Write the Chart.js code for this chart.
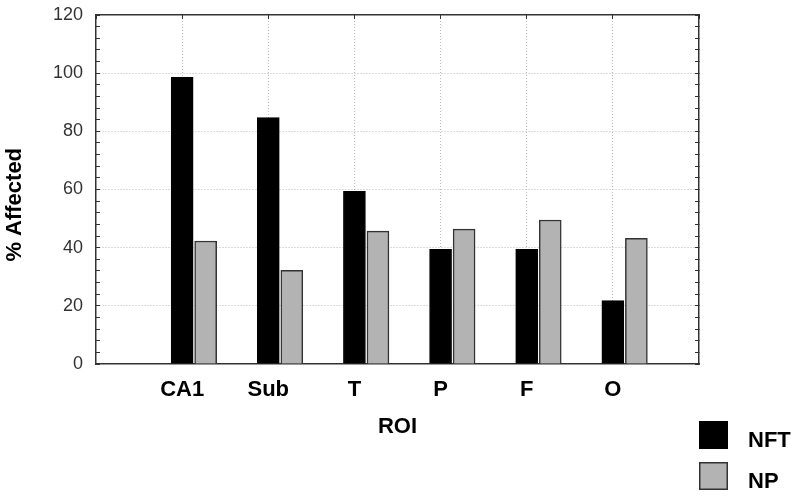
<!DOCTYPE html>
<html>
<head>
<meta charset="utf-8">
<script src="https://cdn.jsdelivr.net/npm/chart.js@4"></script>
<style>
  html, body { margin: 0; padding: 0; background: #ffffff; }
  #wrap { width: 800px; height: 498px; }
</style>
</head>
<body>
<div id="wrap"><canvas id="c" width="800" height="498"></canvas></div>
<script>
// ---- data ----
const categories = ['CA1', 'Sub', 'T', 'P', 'F', 'O'];
const nftValues  = [98.6, 84.7, 59.4, 39.4, 39.4, 21.8];
const npValues   = [42.3, 32.2, 45.7, 46.4, 49.5, 43.2];
const seriesNames = ['NFT', 'NP'];
const yTickMin = 0, yTickMax = 120, yMajorStep = 20, yMinorStep = 4;

// ---- styling ----
const FONT = "'Liberation Sans', Arial, sans-serif";
const gridColor = '#b8b8b8';
const frameColor = '#333333';
const npShift = 0.273;   // NP bar sits just to the right of the category line

const nftData = nftValues.map((v, i) => ({ x: i + 1, y: v }));
const npData  = npValues.map((v, i) => ({ x: i + 1, y: v }));

const boxLegend = {
  id: 'boxLegend',
  afterDraw(chart) {
    const ctx = chart.ctx;
    const area = chart.chartArea;
    chart.data.datasets.forEach((ds, i) => {
      const bx = area.right;
      const by = chart.height - 77 + i * 41;
      ctx.save();
      ctx.fillStyle = ds.backgroundColor;
      ctx.fillRect(bx, by, 29, 28);
      ctx.strokeStyle = ds.borderColor;
      ctx.lineWidth = 1.5;
      ctx.strokeRect(bx + 0.75, by + 0.75, 27.5, 26.5);
      ctx.fillStyle = '#000';
      ctx.font = 'bold 22px ' + FONT;
      ctx.textBaseline = 'middle';
      ctx.textAlign = 'left';
      ctx.fillText(ds.label, bx + 49, by + 20);
      ctx.restore();
    });
  }
};

new Chart(document.getElementById('c'), {
  type: 'bar',
  data: {
    datasets: [
      {
        label: seriesNames[0],
        data: nftData,
        xAxisID: 'x',
        yAxisID: 'y',
        backgroundColor: '#000000',
        borderColor: '#000000',
        borderWidth: 1,
        barThickness: 22,
        grouped: false
      },
      {
        label: seriesNames[1],
        data: npData,
        xAxisID: 'xNP',
        yAxisID: 'y',
        backgroundColor: '#b3b3b3',
        borderColor: '#333333',
        borderWidth: 1.5,
        barThickness: 22,
        grouped: false
      }
    ]
  },
  options: {
    responsive: false,
    animation: false,
    layout: { padding: { left: 0, top: 15, right: 101, bottom: 58 } },
    plugins: {
      legend: { display: false },
      tooltip: { enabled: false }
    },
    scales: {
      x: {
        type: 'linear',
        position: 'bottom',
        min: 0,
        max: categories.length + 1,
        offset: false,
        z: 1,
        ticks: {
          stepSize: 1,
          autoSkip: false,
          maxTicksLimit: 100,
          maxRotation: 0,
          padding: 13,
          color: '#000',
          font: { family: FONT, size: 22, weight: 'bold' },
          callback: (v) => categories[v - 1] || ''
        },
        grid: {
          offset: false,
          color: (c) => (c.tick && c.tick.value >= 1 && c.tick.value <= categories.length) ? gridColor : 'rgba(0,0,0,0)',
          lineWidth: 1,
          drawTicks: false
        },
        border: { display: true, color: frameColor, width: 1.5, dash: [1, 2] },
        title: {
          display: true,
          text: 'ROI',
          color: '#000',
          font: { family: FONT, size: 22, weight: 'bold' },
          padding: { top: 10, bottom: 0 }
        },
        afterFit: (s) => { s.height = 76; s.paddingLeft = 0; s.paddingRight = 0; }
      },
      xNP: {
        type: 'linear',
        display: false,
        offset: false,
        grid: { offset: false },
        min: -npShift,
        max: categories.length + 1 - npShift
      },
      xTop: {
        type: 'linear',
        position: 'top',
        min: 0,
        max: categories.length + 1,
        offset: false,
        z: 1,
        ticks: { display: false, stepSize: 1, maxTicksLimit: 100, autoSkip: false },
        grid: {
          offset: false,
          drawOnChartArea: false,
          drawTicks: true,
          tickLength: -4,
          tickColor: frameColor,
          tickWidth: 1,
          tickBorderDash: []
        },
        border: { display: true, color: frameColor, width: 1.5 },
        afterFit: (s) => { s.height = 0; s.paddingLeft = 0; s.paddingRight = 0; }
      },
      y: {
        type: 'linear',
        position: 'left',
        min: yTickMin,
        max: yTickMax,
        z: 1,
        ticks: {
          stepSize: yMinorStep,
          autoSkip: false,
          maxTicksLimit: 100,
          padding: 17,
          color: '#333',
          font: { family: FONT, size: 18 },
          callback: (v) => (v % yMajorStep === 0) ? String(v) : ''
        },
        grid: {
          color: (c) => (c.tick && c.tick.value % yMajorStep === 0 && c.tick.value > yTickMin && c.tick.value < yTickMax) ? gridColor : 'rgba(0,0,0,0)',
          lineWidth: 1,
          drawTicks: true,
          tickLength: -4,
          tickColor: frameColor,
          tickWidth: 1,
          tickBorderDash: []
        },
        border: { display: true, color: frameColor, width: 1.5, dash: [1, 2] },
        title: {
          display: true,
          text: '% Affected     ',
          color: '#000',
          font: { family: FONT, size: 22, weight: 'bold' },
          padding: { top: 2, bottom: 0 }
        },
        afterFit: (s) => { s.width = 96; s.paddingTop = 0; s.paddingBottom = 0; }
      },
      yR: {
        type: 'linear',
        position: 'right',
        min: yTickMin,
        max: yTickMax,
        z: 1,
        ticks: { display: false, stepSize: yMinorStep, autoSkip: false, maxTicksLimit: 100 },
        grid: {
          drawOnChartArea: false,
          drawTicks: true,
          tickLength: -4,
          tickColor: frameColor,
          tickWidth: 1,
          tickBorderDash: []
        },
        border: { display: true, color: frameColor, width: 1.5 },
        afterFit: (s) => { s.width = 0; s.paddingTop = 0; s.paddingBottom = 0; }
      }
    }
  },
  plugins: [boxLegend]
});
</script>
</body>
</html>
